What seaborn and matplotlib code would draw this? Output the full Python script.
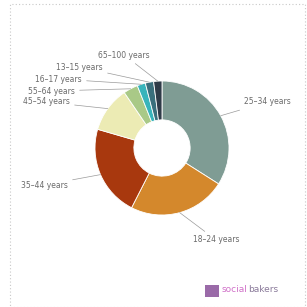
import numpy as np
import matplotlib
matplotlib.use("Agg")
import matplotlib.pyplot as plt
import seaborn as sns
from matplotlib.patches import Rectangle

# Age groups, clockwise from the top
age_groups = ["25–34 years", "18–24 years", "35–44 years", "45–54 years",
              "55–64 years", "16–17 years", "13–15 years", "65–100 years"]
shares = [34.0, 23.5, 22.0, 11.0, 3.5, 2.0, 2.0, 2.0]
colors = ["#7f9c94", "#d4882c", "#a8380e", "#ecebb4",
          "#a9c987", "#38b4bb", "#3a6f7c", "#2f3b48"]

# label text positions in image pixels (x, y from top-left) and alignment
label_pos = {
    "25–34 years": (244, 102, "left"),
    "18–24 years": (193, 240, "left"),
    "35–44 years": (68, 185, "right"),
    "45–54 years": (70, 102, "right"),
    "55–64 years": (75, 91, "right"),
    "16–17 years": (82, 79, "right"),
    "13–15 years": (103, 67, "right"),
    "65–100 years": (150, 55, "right"),
}

sns.set_style("white")
W = H = 307
fig = plt.figure(figsize=(3.07, 3.07), dpi=100)
fig.patch.set_facecolor("white")

# dotted frame
fig.patches.append(Rectangle((10 / W, 0.0), 295 / W, 1 - 4 / H, transform=fig.transFigure,
                             fill=False, ec="#c8c8c8", lw=0.8, ls=(0, (1, 2))))

cx, cy, r = 162, 148, 67
ax = fig.add_axes([(cx - r) / W, (H - cy - r) / H, 2 * r / W, 2 * r / H])
wedges, _ = ax.pie(shares, colors=colors, startangle=90, counterclock=False,
                   radius=1.0, wedgeprops=dict(width=0.58, edgecolor="white", linewidth=0.6))
ax.set_aspect("equal")
ax.set_xlim(-1, 1)
ax.set_ylim(-1, 1)
ax.axis("off")

for w, name in zip(wedges, age_groups):
    ang = np.deg2rad((w.theta1 + w.theta2) / 2)
    x, y = np.cos(ang), np.sin(ang)
    tx, ty, ha = label_pos[name]
    ax.annotate(name, xy=(x, y), xycoords="data",
                xytext=(tx / W, 1 - ty / H), textcoords="figure fraction",
                ha=ha, va="center", fontsize=5.5, color="#6a6a6a",
                arrowprops=dict(arrowstyle="-", color="#9a9a9a", lw=0.5,
                                shrinkA=1, shrinkB=0))

# socialbakers logo
fig.patches.append(Rectangle((205 / W, 1 - 297 / H), 14 / W, 12 / H, transform=fig.transFigure,
                             fc="#9a6aa8", ec="none"))
t1 = fig.text(222 / W, 1 - 290 / H, "social", color="#d070c8", fontsize=6.5, va="center", ha="left")
fig.canvas.draw()
bb = t1.get_window_extent()
fig.text(bb.x1 / W + 0.002, 1 - 290 / H, "bakers", color="#8a7a9a", fontsize=6.5,
         va="center", ha="left")

fig.savefig("out.png", dpi=100)
